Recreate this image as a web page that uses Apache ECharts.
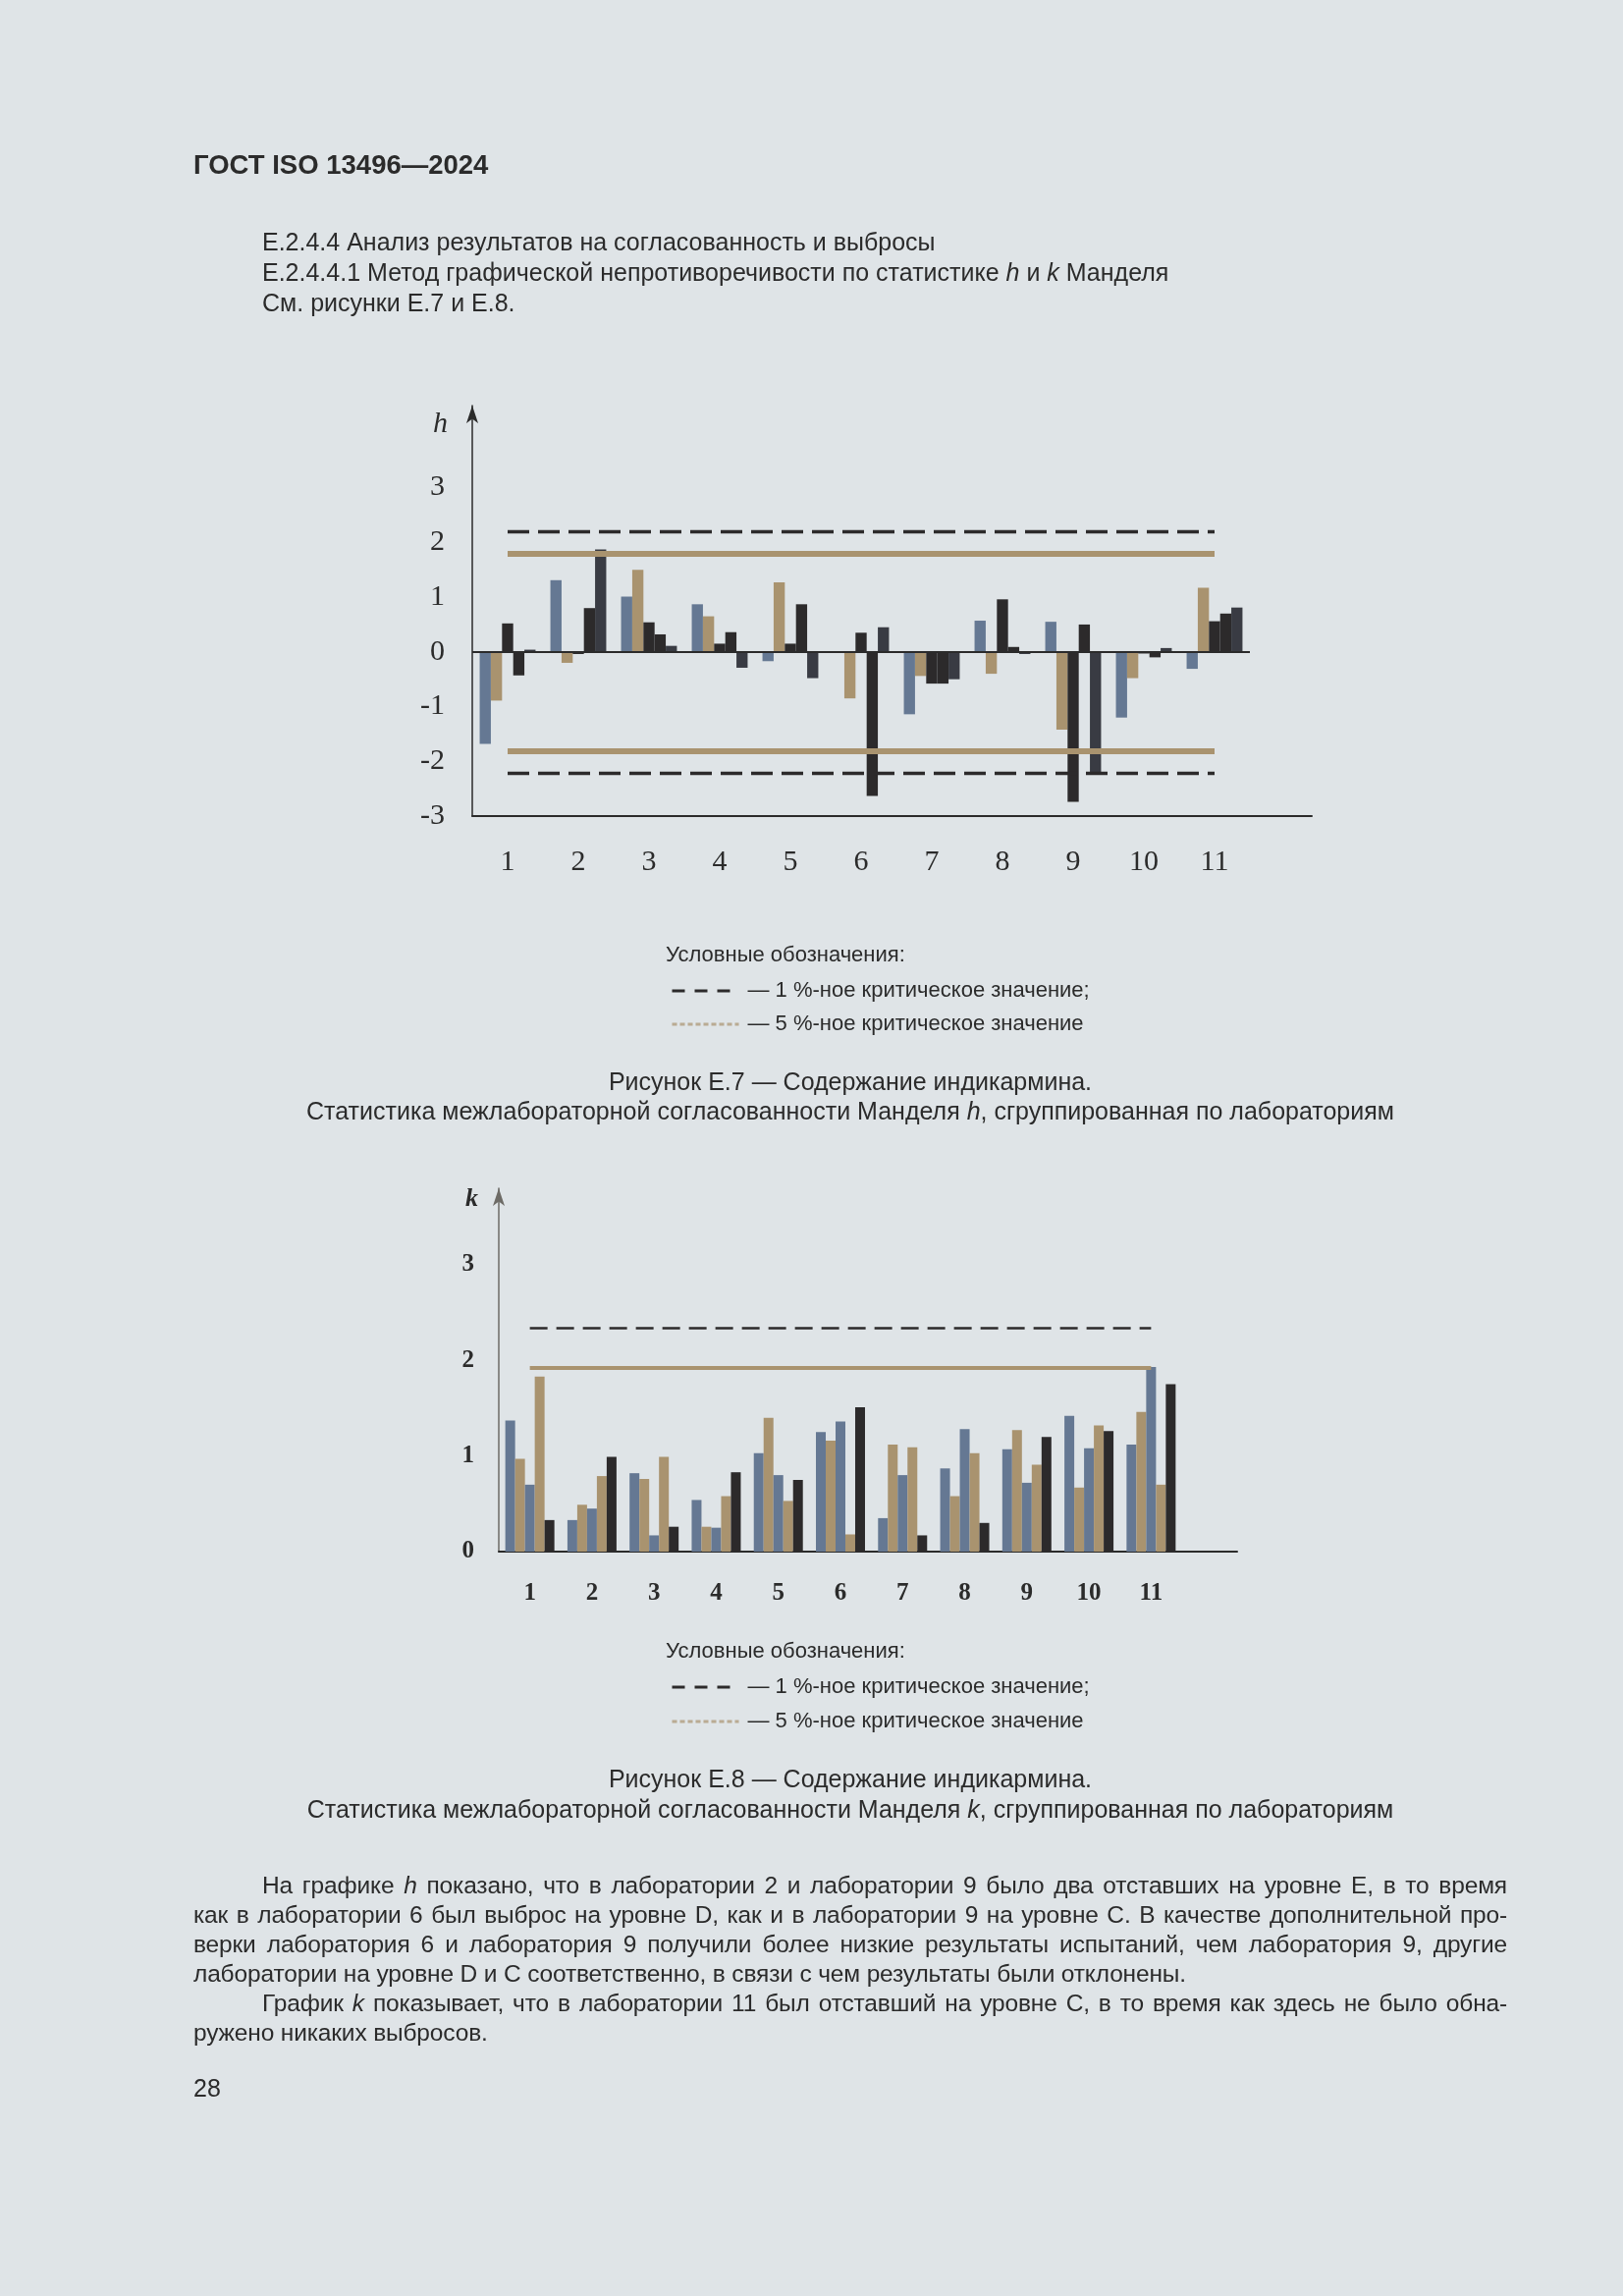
<!DOCTYPE html>
<html>
<head>
<meta charset="utf-8">
<script src="https://cdn.jsdelivr.net/npm/echarts@6/dist/echarts.min.js"></script>
<style>
  html, body { margin: 0; padding: 0; }
  body { width: 1653px; height: 2338px; background: #dfe4e7; position: relative; overflow: hidden;
         font-family: "Liberation Sans", Arial, sans-serif; color: #2b2b2b; }
  #page { position: absolute; left: 0; top: 0; width: 1653px; height: 2338px; }
  .t { position: absolute; white-space: nowrap; font-size: 25px; line-height: 30px; }
  .hdr { left: 197px; top: 153px; font-weight: bold; font-size: 27.5px; }
  .sec { left: 267px; top: 231px; line-height: 31px; }
  .leg { left: 678px; font-size: 22px; }
  .cap { left: 197px; width: 1338px; text-align: center; }
  .par { left: 197px; top: 1905px; width: 1338px; white-space: normal; font-size: 24.5px; letter-spacing: -0.15px; }
  .par div { text-align: justify; text-align-last: justify; white-space: nowrap; }
  .par div.last { text-align-last: left; }
  .par div.ind { text-indent: 70px; }
</style>
</head>
<body>
<div id="page"></div>

<div class="t hdr">ГОСТ ISO 13496—2024</div>
<div class="t sec">Е.2.4.4 Анализ результатов на согласованность и выбросы<br>Е.2.4.4.1 Метод графической непротиворечивости по статистике <i>h</i> и <i>k</i> Манделя<br>См. рисунки Е.7 и Е.8.</div>

<div class="t leg" style="top:957px">Условные обозначения:</div>
<div class="t cap" style="top:1086px">Рисунок Е.7 — Содержание индикармина.<br>Статистика межлабораторной согласованности Манделя <i>h</i>, сгруппированная по лабораториям</div>

<div class="t leg" style="top:1666px">Условные обозначения:</div>
<div class="t cap" style="top:1796px;line-height:31px">Рисунок Е.8 — Содержание индикармина.<br>Статистика межлабораторной согласованности Манделя <i>k</i>, сгруппированная по лабораториям</div>

<div class="t par">
  <div class="ind">На графике <i>h</i> показано, что в лаборатории 2 и лаборатории 9 было два отставших на уровне E, в то время</div>
  <div>как в лаборатории 6 был выброс на уровне D, как и в лаборатории 9 на уровне C. В качестве дополнительной про-</div>
  <div>верки лаборатория 6 и лаборатория 9 получили более низкие результаты испытаний, чем лаборатория 9, другие</div>
  <div class="last">лаборатории на уровне D и C соответственно, в связи с чем результаты были отклонены.</div>
  <div class="ind">График <i>k</i> показывает, что в лаборатории 11 был отставший на уровне C, в то время как здесь не было обна-</div>
  <div class="last">ружено никаких выбросов.</div>
</div>
<div class="t" style="left:197px;top:2111px">28</div>

<script>
// лаборатории
var labs = ['1', '2', '3', '4', '5', '6', '7', '8', '9', '10', '11'];

// статистика h по уровням
var hA = [-1.68, 1.31, 1.01, 0.87, -0.17, 0, -1.14, 0.57, 0.55, -1.20, -0.31];
var hB = [-0.89, -0.20, 1.50, 0.65, 1.27, -0.85, -0.44, -0.40, -1.42, -0.48, 1.17];
var hC = [0.52, -0.04, 0.54, 0.15, 0.15, 0.35, -0.58, 0.96, -2.74, -0.03, 0.56];
var hD = [-0.43, 0.80, 0.32, 0.36, 0.87, -2.63, -0.58, 0.09, 0.50, -0.10, 0.70];
var hE = [0.04, 1.87, 0.11, -0.29, -0.48, 0.45, -0.50, -0.04, -2.20, 0.07, 0.81];
var hCrit1 = [2.20, -2.22];
var hCrit5 = [1.80, -1.81];

// статистика k по уровням
var kA = [1.37, 0.33, 0.82, 0.54, 1.03, 1.25, 0.35, 0.87, 1.07, 1.42, 1.12];
var kB = [0.97, 0.49, 0.76, 0.26, 1.40, 1.16, 1.12, 0.58, 1.27, 0.67, 1.46];
var kC = [0.70, 0.45, 0.17, 0.25, 0.80, 1.36, 0.80, 1.28, 0.72, 1.08, 1.93];
var kD = [1.83, 0.79, 0.99, 0.58, 0.53, 0.18, 1.09, 1.03, 0.91, 1.32, 0.70];
var kE = [0.33, 0.99, 0.26, 0.83, 0.75, 1.51, 0.17, 0.30, 1.20, 1.26, 1.75];
var kCrit1 = [2.34];
var kCrit5 = [1.92];

var name1 = '— 1 %-ное критическое значение;';
var name5 = '— 5 %-ное критическое значение';

var BLUE = '#657893', TAN = '#a9936f', BLACK = '#2c2a2b', DARK = '#393b43', INK = '#2b2b2b';
var SERIF = '"Liberation Serif", "DejaVu Serif", serif';

function bars(name, data, color, xi, yi) {
  return {
    type: 'bar', name: name, data: data, xAxisIndex: xi, yAxisIndex: yi,
    itemStyle: { color: color }, barGap: '0%', barCategoryGap: '21%', silent: true
  };
}

function crit(name, vals, style, xi, yi) {
  return {
    type: 'line', name: name, data: [], xAxisIndex: xi, yAxisIndex: yi, symbol: 'none',
    lineStyle: style, itemStyle: { color: style.color }, z: 5,
    markLine: {
      silent: true, symbol: 'none', label: { show: false }, lineStyle: style, animation: false,
      data: vals.map(function (v) { return [{ coord: [0, v] }, { coord: [labs.length - 1, v] }]; })
    }
  };
}

var chart = echarts.init(document.getElementById('page'));

var hidden = { show: false };
var series = [
  bars('A', hA, BLUE, 0, 0),
  bars('B', hB, TAN, 0, 0),
  bars('C', hC, BLACK, 0, 0),
  bars('D', hD, BLACK, 0, 0),
  bars('E', hE, DARK, 0, 0),
  crit(name1, hCrit1, { color: BLACK, width: 3.3, type: [22, 9] }, 0, 0),
  crit(name5, hCrit5, { color: TAN, width: 6, type: 'solid' }, 0, 0),
  bars('kA', kA, BLUE, 2, 2),
  bars('kB', kB, TAN, 2, 2),
  bars('kC', kC, BLUE, 2, 2),
  bars('kD', kD, TAN, 2, 2),
  bars('kE', kE, BLACK, 2, 2),
  crit(name1, kCrit1, { color: BLACK, width: 2.7, type: [18, 9] }, 2, 2),
  crit(name5, kCrit5, { color: TAN, width: 4, type: 'solid' }, 2, 2)
];
// нулевая линия h
series[0].markLine = {
  silent: true, symbol: 'none', label: { show: false }, animation: false,
  lineStyle: { color: INK, width: 2, type: 'solid' },
  data: [{ yAxis: 0 }]
};

function legendAt(top, gap) {
  return {
    orient: 'vertical', left: 678, top: top, itemGap: gap, itemWidth: 68, itemHeight: 14,
    selectedMode: false,
    textStyle: { fontFamily: '"Liberation Sans", Arial, sans-serif', fontSize: 22, color: INK, padding: [0, 0, 0, 4] },
    data: [
      { name: name1, itemStyle: { opacity: 0 }, lineStyle: { color: BLACK, width: 3, type: [13, 10] } },
      { name: name5, itemStyle: { opacity: 0 }, lineStyle: { color: TAN, width: 3, type: [5, 3], opacity: 0.7 } }
    ]
  };
}

var option = {
  animation: false,
  title: [
    { text: 'h', left: 436, top: 412, textStyle: { fontFamily: SERIF, fontStyle: 'italic', fontWeight: 'normal', fontSize: 30, color: INK } },
    { text: 'k', left: 469, top: 1203, textStyle: { fontFamily: SERIF, fontStyle: 'italic', fontWeight: 'bold', fontSize: 26, color: INK } }
  ],
  legend: [legendAt(993, 12), legendAt(1702, 13)],
  grid: [
    { left: 481, top: 413, width: 792, height: 418, outerBoundsMode: 'none' },
    { left: 481, top: 413, width: 855, height: 418, outerBoundsMode: 'none' },
    { left: 508, top: 1210, width: 696, height: 370, outerBoundsMode: 'none' },
    { left: 508, top: 1210, width: 752, height: 370, outerBoundsMode: 'none' }
  ],
  xAxis: [
    {
      type: 'category', gridIndex: 0, data: labs,
      axisLine: { show: false, onZero: false }, axisTick: hidden,
      axisLabel: { margin: 32, fontFamily: SERIF, fontSize: 30, color: INK }
    },
    {
      type: 'value', gridIndex: 1, min: 0, max: 1,
      axisLine: { show: true, onZero: false, lineStyle: { color: INK, width: 2 } },
      axisTick: hidden, axisLabel: hidden, splitLine: hidden
    },
    {
      type: 'category', gridIndex: 2, data: labs,
      axisLine: { show: false, onZero: false }, axisTick: hidden,
      axisLabel: { margin: 30, fontFamily: SERIF, fontWeight: 'bold', fontSize: 25, color: INK }
    },
    {
      type: 'value', gridIndex: 3, min: 0, max: 1,
      axisLine: { show: true, onZero: false, lineStyle: { color: INK, width: 2 } },
      axisTick: hidden, axisLabel: hidden, splitLine: hidden
    }
  ],
  yAxis: [
    {
      type: 'value', gridIndex: 0, min: -3, max: 4.5, interval: 1,
      axisLine: { show: true, onZero: false, symbol: ['none', 'arrow'], symbolSize: [9, 18], lineStyle: { color: INK, width: 1.5 } },
      axisTick: hidden, splitLine: hidden,
      axisLabel: {
        margin: 28, fontFamily: SERIF, fontSize: 30, color: INK, showMaxLabel: false,
        formatter: function (v) { return v <= 3 ? String(v) : ''; }
      }
    },
    { type: 'value', gridIndex: 1, min: 0, max: 1, show: false },
    {
      type: 'value', gridIndex: 2, min: 0, max: 3.8, interval: 1,
      axisLine: { show: true, onZero: false, symbol: ['none', 'arrow'], symbolSize: [9, 18], lineStyle: { color: '#6d6b66', width: 1.5 } },
      axisTick: hidden, splitLine: hidden,
      axisLabel: {
        margin: 25, fontFamily: SERIF, fontWeight: 'bold', fontSize: 25, color: INK, showMaxLabel: false,
        formatter: function (v) { return v <= 3 ? String(v) : ''; }
      }
    },
    { type: 'value', gridIndex: 3, min: 0, max: 1, show: false }
  ],
  series: series
};

chart.setOption(option);
</script>
</body>
</html>
